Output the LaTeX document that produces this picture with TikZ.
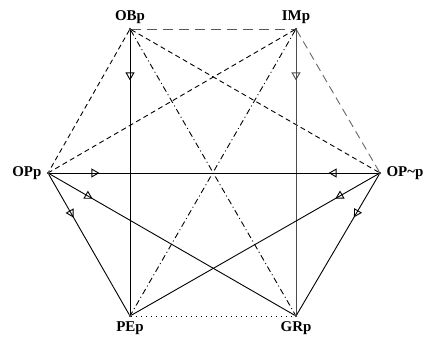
\documentclass[tikz,border=0pt]{standalone}
\usepackage{fontspec}
\setmainfont{Liberation Serif}
\usetikzlibrary{arrows.meta,decorations.markings}

\begin{document}
\begin{tikzpicture}[x=1bp, y=-1bp,
  vertex/.style={circle, fill, inner sep=0pt, minimum size=2.4bp},
  lbl/.style={font=\fontsize{15}{17}\selectfont\bfseries, inner sep=1bp},
  edge/.style={line width=0.9bp},
  flow/.style={edge, postaction={decorate}, decoration={markings,
      mark=at position 50bp with {\arrow[line width=0.9bp]{Triangle[open, length=8bp, width=9bp]}}}},
  longdash/.style={edge, gray!70!black, dash pattern=on 10bp off 6bp},
  shortdash/.style={edge, dash pattern=on 5bp off 3.5bp},
  lightdash/.style={edge, gray!80!black, dash pattern=on 8bp off 5bp},
  dashdot/.style={edge, dash pattern=on 6bp off 3bp on 1bp off 3bp},
  dots/.style={edge, dash pattern=on 1bp off 4bp}]
  \useasboundingbox (0,0) rectangle (429,340);
  % the six corners
  \node[vertex, label={[lbl, label distance=3bp]above:OBp}] (obp) at (130,29) {};
  \node[vertex, label={[lbl, label distance=3bp]above:IMp}] (imp) at (296,29) {};
  \node[vertex, label={[lbl, label distance=4bp]left:OPp}] (opp) at (48,173) {};
  \node[vertex, label={[lbl, label distance=4bp]right:OP\textasciitilde p}] (opnp) at (380,173) {};
  \node[vertex, label={[lbl, label distance=3bp]below:PEp}] (pep) at (130,316) {};
  \node[vertex, label={[lbl, label distance=3bp]below:GRp}] (grp) at (296,316) {};
  % dashed sides and diagonals
  \draw[longdash] (obp) -- (imp);
  \draw[shortdash] (obp) -- (opp);
  \draw[lightdash] (imp) -- (opnp);
  \draw[shortdash] (obp) -- (opnp);
  \draw[shortdash] (imp) -- (opp);
  \draw[dashdot] (obp) -- (grp);
  \draw[dashdot] (imp) -- (pep);
  \draw[dots] (pep) -- (grp);
  % solid arrows
  \draw[flow] (obp) -- (pep);
  \draw[flow, gray!60!black] (imp) -- (grp);
  \draw[flow] (opp) -- (opnp);
  \draw[flow] (opnp) -- (opp);
  \draw[flow] (opp) -- (grp);
  \draw[flow] (opp) -- (pep);
  \draw[flow] (opnp) -- (pep);
  \draw[flow] (opnp) -- (grp);
\end{tikzpicture}
\end{document}
